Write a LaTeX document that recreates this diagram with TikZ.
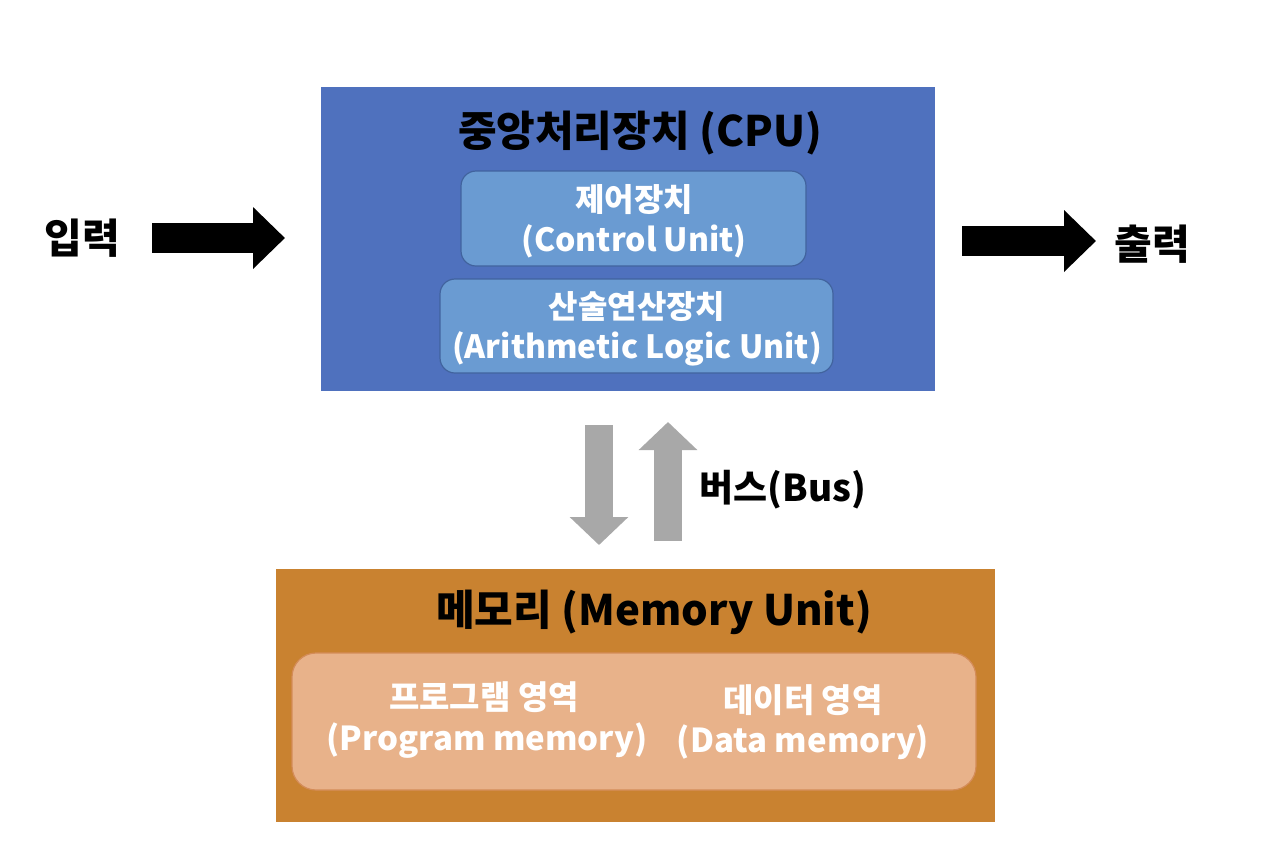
\documentclass[tikz,border=0pt]{standalone}
\usepackage{fontspec}
\setmainfont{Noto Sans CJK KR}
\usetikzlibrary{arrows.meta}
\definecolor{cpublue}{HTML}{4F71BE}
\definecolor{subblue}{HTML}{6A9BD2}
\definecolor{subblueedge}{HTML}{41639E}
\definecolor{memorange}{HTML}{C98230}
\definecolor{inner}{HTML}{E8B28A}
\definecolor{inneredge}{HTML}{D48C58}
\definecolor{busgray}{HTML}{A8A8A8}
\tikzset{
  bigbox/.style={rectangle, inner sep=0pt},
  subbox/.style={rectangle, rounded corners=7.5pt, fill=subblue, draw=subblueedge, line width=0.6pt, inner sep=0pt},
  innerbox/.style={rectangle, rounded corners=12pt, fill=inner, draw=inneredge, line width=0.6pt, inner sep=0pt},
  title/.style={font=\fontsize{21}{24}\selectfont\bfseries, text=black, inner sep=0pt},
  subtext/.style={font=\fontsize{16}{19}\selectfont\bfseries, text=white, inner sep=0pt},
  memtext/.style={font=\fontsize{16.5}{19}\selectfont\bfseries, text=white, inner sep=0pt},
  sidetext/.style={font=\fontsize{20.5}{24}\selectfont\bfseries, text=black, inner sep=0pt},
  bustext/.style={font=\fontsize{18.5}{22}\selectfont\bfseries, text=black, inner sep=0pt},
  bigarrow/.style={line width=15pt, draw=black, -{Triangle[length=16pt, width=30pt]}},
  busarrow/.style={line width=14pt, draw=busgray, -{Triangle[length=14pt, width=28.5pt]}},
}
\begin{document}
\begin{tikzpicture}[x=0.5pt, y=-0.5pt]
\useasboundingbox[fill=white] (0,0) rectangle (1268,864);
% CPU
\node[bigbox, fill=cpublue, minimum width=307pt, minimum height=152pt] (cpu) at (628,239) {};
\node[title] (cputitle) at (640,133) {중앙처리장치 (CPU)};
\node[subbox, minimum width=172.5pt, minimum height=47.5pt] (cu) at (633.5,218.5) {};
\node[subtext] (cuk) at (634,200) {제어장치};
\node[subtext] (cue) at (634,241) {(Control Unit)};
\node[subbox, minimum width=196.5pt, minimum height=47pt] (alu) at (636.5,326) {};
\node[subtext] (aluk) at (637,307) {산술연산장치};
\node[subtext] (alue) at (637,349) {(Arithmetic Logic Unit)};
% Memory
\node[bigbox, fill=memorange, minimum width=359.5pt, minimum height=126.5pt] (mem) at (635.5,695.5) {};
\node[title] (memtitle) at (654,612) {메모리 (Memory Unit)};
\node[innerbox, minimum width=342pt, minimum height=68.5pt] (inbox) at (634,721.5) {};
\node[memtext] (progk) at (484,697) {프로그램 영역};
\node[memtext] (proge) at (487,741) {(Program memory)};
\node[memtext] (datak) at (803,700) {데이터 영역};
\node[memtext] (datae) at (803,742) {(Data memory)};
% Input / output
\node[sidetext] (in) at (82,238) {입력};
\node[sidetext] (out) at (1152,244) {출력};
\coordinate (inA) at (152,238);
\coordinate (inB) at (285,238);
\coordinate (outA) at (962,241);
\coordinate (outB) at (1096,241);
\draw[bigarrow] (inA) -- (inB);
\draw[bigarrow] (outA) -- (outB);
% Bus
\coordinate (dA) at (599,425);
\coordinate (dB) at (599,545);
\coordinate (uA) at (668,541);
\coordinate (uB) at (668,422);
\draw[busarrow] (dA) -- (dB);
\draw[busarrow] (uA) -- (uB);
\node[bustext, anchor=west] (bus) at (699,490) {버스(Bus)};
\end{tikzpicture}
\end{document}
